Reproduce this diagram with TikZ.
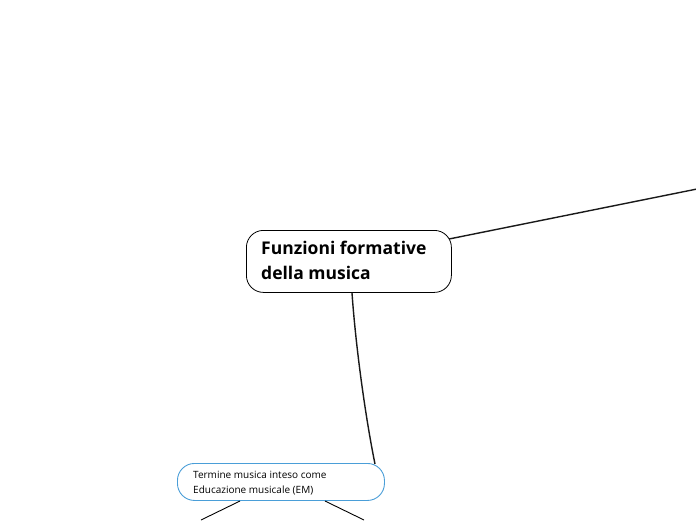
\documentclass[tikz,border=0pt]{standalone}
\usepackage{fontspec}
\setmainfont{Open Sans}
\begin{document}
\begin{tikzpicture}[x=1pt,y=-1pt,
  mainbox/.style={draw=black, line width=0.8pt, rounded corners=17pt, fill=white},
  subbox/.style={draw=c1, line width=0.9pt, rounded corners=17pt, fill=white},
  conn/.style={line width=1.4pt, draw=black!90},
  thin/.style={line width=0.9pt}]
\definecolor{c1}{HTML}{4A9ED8}
\useasboundingbox (0,0) rectangle (696,520);
% main node
\node[mainbox, minimum width=205pt, minimum height=62pt, anchor=north west] (main) at (246,230) {};
\node[anchor=north west, align=left, font=\fontsize{17.5}{25}\selectfont\bfseries, inner sep=0pt] (maintxt) at (261,241) {Funzioni formative\\della musica};
% sub node
\node[subbox, minimum width=207pt, minimum height=37pt, anchor=north west] (sub) at (177,463) {};
\node[anchor=north west, align=left, font=\fontsize{10}{15}\selectfont, inner sep=0pt] (subtxt) at (193,471) {Termine musica inteso come\\Educazione musicale (EM)};
% connectors
\coordinate (r1) at (449,239);
\coordinate (r2) at (697,189);
\draw[conn] (r1) -- (r2);
\coordinate (m1) at (352,293);
\coordinate (s1) at (375,464);
\draw[conn] (m1) .. controls (356,350) and (366,420) .. (s1);
\coordinate (b1) at (240,501);
\coordinate (b2) at (201,520);
\coordinate (b3) at (325,501);
\coordinate (b4) at (364,520);
\draw[thin] (b1) -- (b2);
\draw[thin] (b3) -- (b4);
\end{tikzpicture}
\end{document}
